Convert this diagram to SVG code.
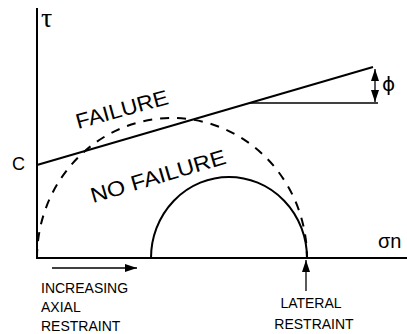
<svg xmlns="http://www.w3.org/2000/svg" width="407" height="334" viewBox="0 0 407 334">
<style>
.ln{stroke:#000;fill:none;stroke-width:2}
.thin{stroke:#000;fill:none;stroke-width:1.3}
.t{font-family:"Liberation Sans",Arial,sans-serif;fill:#000}
.s{font-size:14px}
.big{font-size:21px}
</style>
<defs>
<marker id="ah" viewBox="0 0 12 8" refX="12" refY="4" markerWidth="12" markerHeight="8" markerUnits="userSpaceOnUse" orient="auto-start-reverse">
<path d="M0,0 L12,4 L0,8 Z" fill="#000"/>
</marker>
</defs>
<g id="axes">
<line class="ln" x1="37" y1="8" x2="37" y2="259"/>
<line class="ln" x1="36" y1="258" x2="407" y2="258" stroke-width="2.5"/>
<text class="t" x="378" y="248" font-size="20">σn</text>
<text x="41" y="27" font-family="Liberation Serif,serif" font-size="28">τ</text>
<text class="t" x="12" y="170" font-size="18">C</text>
</g>
<g id="failure-envelope">
<line class="ln" x1="37" y1="165" x2="373" y2="67"/>
<line class="thin" x1="250" y1="103" x2="378" y2="103"/>
<text class="t big" transform="translate(78,129) rotate(-15.5)" textLength="95" lengthAdjust="spacingAndGlyphs">FAILURE</text>
</g>
<g id="phi">
<line class="thin" x1="375" y1="69" x2="375" y2="102" marker-start="url(#ah)" marker-end="url(#ah)"/>
<text x="382" y="91" font-family="DejaVu Sans,sans-serif" font-size="20">ϕ</text>
</g>
<g id="dashed-circle">
<path class="ln" d="M37,258 A135,140 0 0 1 307,258" stroke-dasharray="9 8"/>
<text class="t big" transform="translate(93,203) rotate(-16.5)" textLength="140" lengthAdjust="spacingAndGlyphs">NO FAILURE</text>
</g>
<g id="solid-circle">
<path class="ln" d="M151,258 A78,81 0 0 1 307,258"/>
</g>
<g id="connectors">
<line class="thin" x1="52" y1="268" x2="137" y2="268" marker-end="url(#ah)"/>
<line class="thin" x1="306" y1="291" x2="306" y2="260" marker-end="url(#ah)"/>
</g>
<g id="axial-label">
<text class="t s" x="41" y="293">INCREASING</text>
<text class="t s" x="41" y="312">AXIAL</text>
<text class="t s" x="41" y="331">RESTRAINT</text>
</g>
<g id="lateral-label">
<text class="t s" x="311" y="308" text-anchor="middle">LATERAL</text>
<text class="t s" x="314" y="329" text-anchor="middle" font-size="15">RESTRAINT</text>
</g>
</svg>
